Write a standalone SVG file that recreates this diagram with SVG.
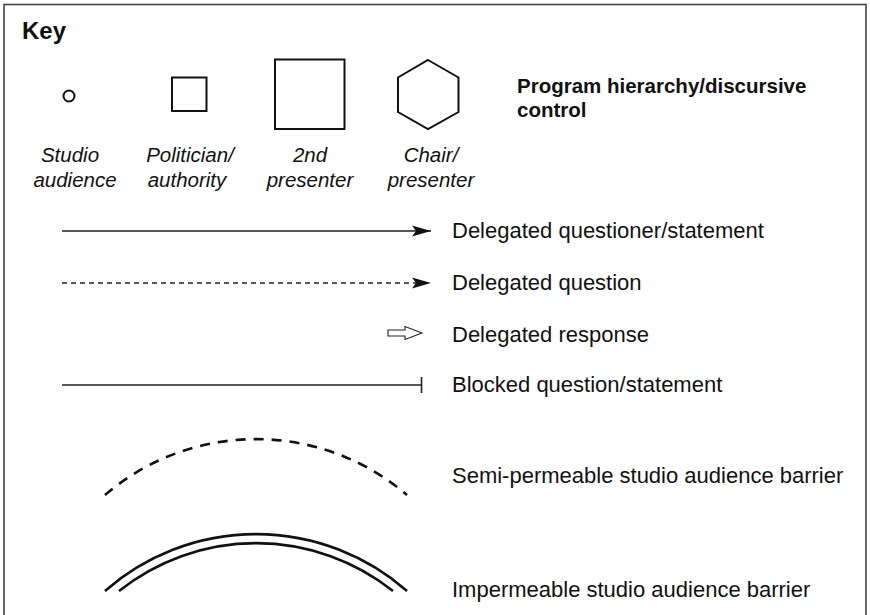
<svg xmlns="http://www.w3.org/2000/svg" width="870" height="615" viewBox="0 0 870 615">
  <style>
    .frame { fill: none; stroke: #444; stroke-width: 1.6; }
    .shape { fill: none; stroke: #111; stroke-width: 2; }
    .line { fill: none; stroke: #222; stroke-width: 1.4; }
    .barrier { fill: none; stroke: #111; stroke-width: 2.6; }
    .t { font-family: "Liberation Sans", Arial, Helvetica, sans-serif; fill: #111; }
    .lbl { font-size: 20.5px; font-style: italic; text-anchor: middle; }
    .desc { font-size: 22px; }
    .bold { font-weight: bold; }
  </style>
  <defs>
    <marker id="head" markerUnits="userSpaceOnUse" markerWidth="20" markerHeight="12" refX="19" refY="6" orient="auto">
      <path d="M0,0.5 L19,6 L0,11.5 L4,6 Z" fill="#111"/>
    </marker>
  </defs>

  <rect class="frame" x="4" y="4.5" width="862" height="640"/>

  <text class="t bold" x="22" y="39" font-size="24">Key</text>

  <g id="studio-audience">
    <circle class="shape" cx="69" cy="96" r="5.5"/>
    <text class="t lbl" x="70" y="162">Studio</text>
    <text class="t lbl" x="75" y="187">audience</text>
  </g>
  <g id="politician">
    <rect class="shape" x="172" y="77.5" width="34.5" height="33.5"/>
    <text class="t lbl" x="190" y="162">Politician/</text>
    <text class="t lbl" x="187" y="187">authority</text>
  </g>
  <g id="second-presenter">
    <rect class="shape" x="275" y="59.5" width="69.5" height="69.5"/>
    <text class="t lbl" x="310" y="162">2nd</text>
    <text class="t lbl" x="310" y="187">presenter</text>
  </g>
  <g id="chair-presenter">
    <polygon class="shape" points="428,60 458.5,77.5 458.5,112 428,129 398,112 398,77.5"/>
    <text class="t lbl" x="431" y="162">Chair/</text>
    <text class="t lbl" x="431" y="187">presenter</text>
  </g>

  <g id="hierarchy-note">
    <text class="t bold" x="517" y="93" font-size="20.5">Program hierarchy/discursive</text>
    <text class="t bold" x="517" y="117" font-size="20.5">control</text>
  </g>

  <g id="connectors">
    <line class="line" x1="62" y1="231" x2="431" y2="231" marker-end="url(#head)"/>
    <line class="line" x1="62" y1="283" x2="431" y2="283" stroke-dasharray="5,4" marker-end="url(#head)"/>
    <path d="M388,330 L405,330 L405,326.5 L422,333 L405,339.5 L405,336 L388,336 Z" fill="#fff" stroke="#222" stroke-width="1.1"/>
    <line class="line" x1="62" y1="385" x2="421.5" y2="385"/>
    <line x1="421.5" y1="377" x2="421.5" y2="393" stroke="#222" stroke-width="1.6"/>
    <path class="barrier" d="M105,495 A232,232 0 0 1 407,495" stroke-dasharray="10,8"/>
    <path class="barrier" d="M105,591 A229,229 0 0 1 407,591"/>
    <path class="barrier" d="M119,591 A220,220 0 0 1 393,591"/>
  </g>

  <g id="descriptions">
    <text class="t desc" x="452" y="238">Delegated questioner/statement</text>
    <text class="t desc" x="452" y="290">Delegated question</text>
    <text class="t desc" x="452" y="342">Delegated response</text>
    <text class="t desc" x="452" y="392">Blocked question/statement</text>
    <text class="t desc" x="452" y="483">Semi-permeable studio audience barrier</text>
    <text class="t desc" x="452" y="597">Impermeable studio audience barrier</text>
  </g>
</svg>
